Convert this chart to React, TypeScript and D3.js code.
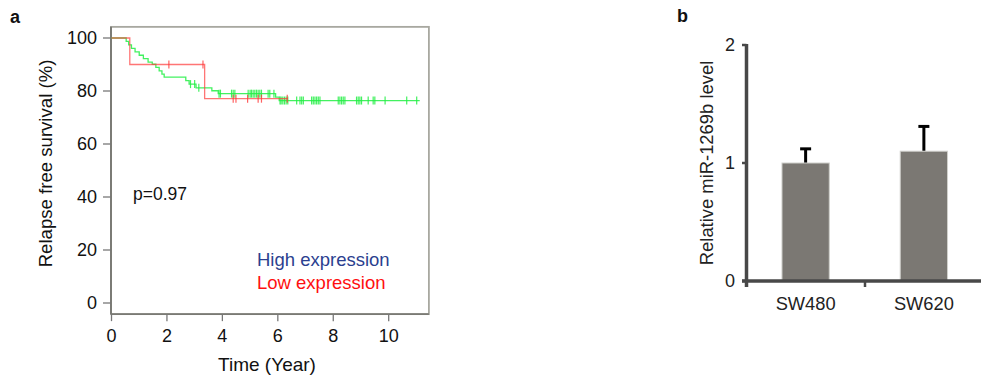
import React from "react";
import * as d3 from "d3";

// ---- Panel a: Kaplan–Meier data ----
const highStepTimes = [0.53, 0.62, 0.72, 0.85, 1.0, 1.15, 1.32, 1.47, 1.6, 1.72, 1.82, 1.9, 2.68, 2.8, 3.05, 3.62, 3.85, 5.92, 6.05];
const highStepSurv = [98.7, 97.4, 96.1, 94.8, 93.5, 92.2, 90.9, 90.1, 88.9, 87.6, 86.4, 85.2, 83.9, 82.6, 81.2, 80.1, 79.0, 77.7, 76.4];
const highEnd = 11.12;
const highCensor = [2.85, 3.0, 3.15, 3.88, 3.93, 4.33, 4.39, 4.45, 4.93, 5.0, 5.05, 5.11, 5.17, 5.23, 5.29, 5.35, 5.41, 5.65, 5.71, 5.86, 6.08, 6.12, 6.18, 6.24, 6.3, 6.36, 6.68, 6.8, 6.86, 6.92, 7.22, 7.28, 7.34, 7.4, 7.46, 7.52, 8.18, 8.24, 8.3, 8.36, 8.42, 8.84, 8.9, 8.96, 9.02, 9.26, 9.44, 9.5, 9.87, 10.65, 11.01];

const lowStepTimes = [0.66, 3.36];
const lowStepSurv = [90, 77.1];
const lowEnd = 6.36;
const lowCensor = [2.07, 3.3, 4.39, 4.49, 4.91, 5.29, 5.41, 6.34];

const xTicksA = [0, 2, 4, 6, 8, 10];
const yTicksA = [0, 20, 40, 60, 80, 100];
const pValueText = "p=0.97";
const legendLabels = ["High expression", "Low expression"];

// ---- Panel b: bar data ----
const categories = ["SW480", "SW620"];
const barValues = [1.0, 1.1];
const barErrors = [0.12, 0.21];
const yTicksB = [0, 1, 2];

const FONT = "'Liberation Sans', Arial, sans-serif";

function survivalAt(times: number[], surv: number[], t: number) {
  let s = 100;
  for (let i = 0; i < times.length; i++) if (times[i] <= t) s = surv[i];
  return s;
}

export default function App() {
  // panel a scales
  const x = d3.scaleLinear().domain([0, 10]).range([111.5, 388.7]);
  const y = d3.scaleLinear().domain([0, 100]).range([303, 38]);
  const line = d3
    .line<[number, number]>()
    .x((d) => x(d[0]))
    .y((d) => y(d[1]))
    .curve(d3.curveStepAfter);

  const highPts: [number, number][] = [[0, 100], ...highStepTimes.map((t, i) => [t, highStepSurv[i]] as [number, number]), [highEnd, highStepSurv[highStepSurv.length - 1]]];
  const lowPts: [number, number][] = [[0, 100], ...lowStepTimes.map((t, i) => [t, lowStepSurv[i]] as [number, number]), [lowEnd, lowStepSurv[lowStepSurv.length - 1]]];

  const boxL = x(0) - 0.5;
  const boxR = x(11.45);
  const boxT = y(104.2);
  const boxB = y(-4.2);

  const green = "#22ee44";
  const red = "#ff3b3b";

  // panel b scales
  const xb = d3.scaleBand().domain(categories).range([746.5, 983]).paddingInner(0).paddingOuter(0);
  const yb = d3.scaleLinear().domain([0, 2]).range([281, 45]);
  const barW = xb.bandwidth() * 0.4;

  return (
    <svg width={981} height={381} style={{ position: "absolute", left: 0, top: 0, background: "#fff" }} fontFamily={FONT}>
      <style>{`body{margin:0}`}</style>
      {/* Panel labels */}
      <text x={10} y={23} fontSize={18} fontWeight="bold" fill="#111">a</text>
      <text x={677} y={22} fontSize={18} fontWeight="bold" fill="#111">b</text>

      {/* ---- Panel a ---- */}
      <rect x={boxL} y={boxT} width={boxR - boxL} height={boxB - boxT} fill="none" stroke="#a8a8a0" strokeWidth={1.8} />
      <line x1={boxL} x2={boxL} y1={boxT} y2={boxB} stroke="#6f6f6a" strokeWidth={1.6} />
      <line x1={boxL} x2={boxR} y1={boxB} y2={boxB} stroke="#7a7a74" strokeWidth={1.6} />
      {yTicksA.map((t) => (
        <g key={"ya" + t}>
          <line x1={boxL - 8} x2={boxL} y1={y(t)} y2={y(t)} stroke="#777" strokeWidth={1.3} />
          <text x={boxL - 14} y={y(t)} dy="0.36em" textAnchor="end" fontSize={18} fill="#111">{t}</text>
        </g>
      ))}
      {xTicksA.map((t) => (
        <g key={"xa" + t}>
          <line x1={x(t)} x2={x(t)} y1={boxB} y2={boxB + 7} stroke="#777" strokeWidth={1.3} />
          <text x={x(t)} y={boxB + 28} textAnchor="middle" fontSize={18} fill="#111">{t}</text>
        </g>
      ))}
      <text x={267} y={371} textAnchor="middle" fontSize={19} fill="#111">Time (Year)</text>
      <text transform={`translate(52,${(y(0) + y(100)) / 2 - 7}) rotate(-90)`} textAnchor="middle" fontSize={18.6} fill="#111">Relapse free survival (%)</text>

      <path d={line(highPts) || ""} fill="none" stroke={green} strokeWidth={1.3} strokeOpacity={0.85} />
      {highCensor.map((t, i) => {
        const s = survivalAt(highStepTimes, highStepSurv, t);
        return <line key={"hc" + i} x1={x(t)} x2={x(t)} y1={y(s) - 4} y2={y(s) + 4} stroke={green} strokeWidth={1.2} strokeOpacity={0.85} />;
      })}
      <path d={line(lowPts) || ""} fill="none" stroke={red} strokeWidth={1.3} strokeOpacity={0.7} />
      {lowCensor.map((t, i) => {
        const s = survivalAt(lowStepTimes, lowStepSurv, t);
        return <line key={"lc" + i} x1={x(t)} x2={x(t)} y1={y(s) - 4} y2={y(s) + 4} stroke={red} strokeWidth={1.2} strokeOpacity={0.8} />;
      })}

      <text x={133} y={200} fontSize={17.5} fill="#111">{pValueText}</text>
      <text x={257} y={266} fontSize={18.5} fill="#2b3f8f">{legendLabels[0]}</text>
      <text x={257} y={289} fontSize={18.5} fill="#ff1010">{legendLabels[1]}</text>

      {/* ---- Panel b ---- */}
      {categories.map((c, i) => {
        const cx = (xb(c) as number) + xb.bandwidth() / 2;
        const top = yb(barValues[i]);
        const errTop = yb(barValues[i] + barErrors[i]);
        return (
          <g key={c}>
            <line x1={cx} x2={cx} y1={top} y2={errTop} stroke="#000" strokeWidth={3} />
            <line x1={cx - 5.5} x2={cx + 5.5} y1={errTop} y2={errTop} stroke="#000" strokeWidth={3} />
            <rect x={cx - barW / 2} y={top} width={barW} height={yb(0) - top} fill="#7b7873" stroke="#d0d0cc" strokeWidth={1} />
            <text x={cx} y={310} textAnchor="middle" fontSize={18.3} fill="#222">{c}</text>
          </g>
        );
      })}
      <line x1={746.5} x2={746.5} y1={yb(2) - 1} y2={yb(0) + 6} stroke="#484848" strokeWidth={3.5} />
      <line x1={742} x2={983} y1={yb(0)} y2={yb(0)} stroke="#484848" strokeWidth={3.5} />
      <line x1={865} x2={865} y1={yb(0)} y2={yb(0) + 6} stroke="#484848" strokeWidth={2.5} />
      {yTicksB.map((t) => (
        <g key={"yb" + t}>
          <line x1={742} x2={746.5} y1={yb(t)} y2={yb(t)} stroke="#484848" strokeWidth={2.5} />
          <text x={735} y={yb(t)} dy="0.36em" textAnchor="end" fontSize={18} fill="#222">{t}</text>
        </g>
      ))}
      <text transform={`translate(713,${yb(1)}) rotate(-90)`} textAnchor="middle" fontSize={18.4} fill="#222">Relative miR-1269b level</text>
    </svg>
  );
}
